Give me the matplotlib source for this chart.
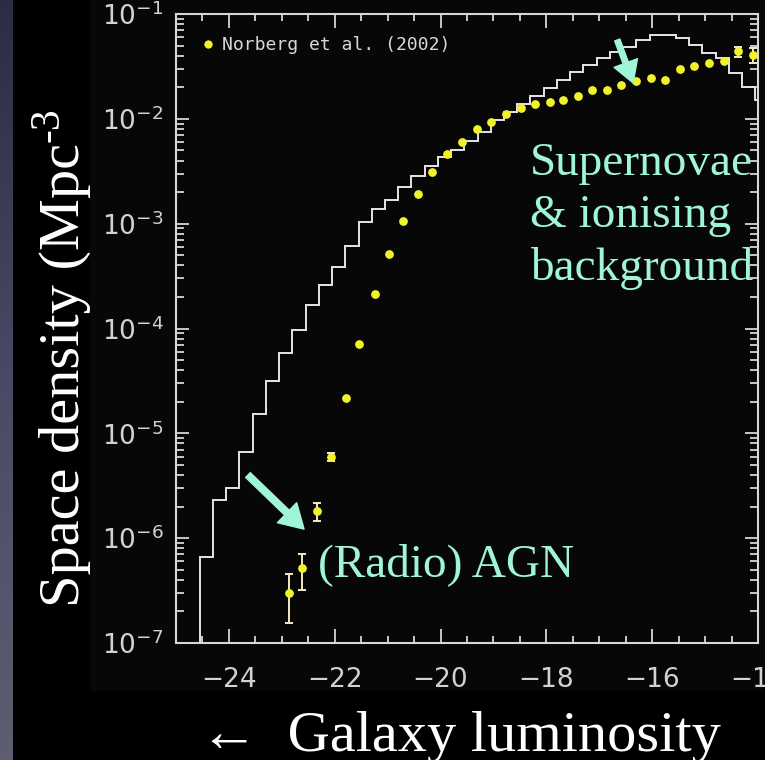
import numpy as np
import matplotlib
matplotlib.use("Agg")
import matplotlib.pyplot as plt
from matplotlib.lines import Line2D
from matplotlib.ticker import MultipleLocator, LogLocator, NullFormatter
from matplotlib.transforms import IdentityTransform

# Norberg et al. (2002) luminosity function points
norberg_mag = [-22.86, -22.62, -22.34, -22.07, -21.79, -21.54, -21.24, -20.98,
               -20.71, -20.43, -20.16, -19.88, -19.60, -19.32, -19.05, -18.76,
               -18.48, -18.21, -17.93, -17.68, -17.40, -17.14, -16.86, -16.59,
               -16.31, -16.03, -15.76, -15.47, -15.21, -14.92, -14.65, -14.37,
               -14.10]
norberg_phi = [3.0e-7, 5.15e-7, 1.82e-6, 5.98e-6, 2.16e-5, 7.1e-5, 2.12e-4, 5.1e-4,
               1.05e-3, 1.92e-3, 3.09e-3, 4.6e-3, 6.05e-3, 8.0e-3, 9.4e-3, 1.11e-2,
               1.26e-2, 1.38e-2, 1.46e-2, 1.51e-2, 1.65e-2, 1.88e-2, 1.88e-2, 2.10e-2,
               2.31e-2, 2.47e-2, 2.34e-2, 2.97e-2, 3.19e-2, 3.44e-2, 3.59e-2, 4.47e-2,
               4.06e-2]
norberg_err_lo = [1.45e-7, 1.95e-7, 3.5e-7, 4.8e-7] + [0.0] * 27 + [5.5e-3, 6.3e-3]
norberg_err_hi = [1.6e-7, 1.91e-7, 3.3e-7, 5.2e-7] + [0.0] * 27 + [4.1e-3, 6.5e-3]

# model luminosity function, 0.25 mag bins
model_edges = np.arange(-24.55, -13.74, 0.25)
model_phi = [6.56e-7, 2.31e-6, 2.99e-6, 6.68e-6, 1.53e-5, 3.18e-5, 5.88e-5, 9.68e-5,
             1.68e-4, 2.60e-4, 3.88e-4, 6.12e-4, 1.04e-3, 1.38e-3, 1.70e-3, 2.25e-3,
             2.85e-3, 3.55e-3, 4.33e-3, 5.05e-3, 6.15e-3, 7.54e-3, 9.75e-3, 1.16e-2,
             1.38e-2, 1.65e-2, 1.97e-2, 2.34e-2, 2.82e-2, 3.26e-2, 3.78e-2, 4.37e-2,
             4.88e-2, 5.65e-2, 6.31e-2, 6.31e-2, 5.86e-2, 5.06e-2, 4.22e-2, 3.78e-2,
             2.72e-2, 2.02e-2, 1.51e-2]

x_ticks = [-24, -22, -20, -18, -16, -14]

AQUA = "#a0f5d8"
YELLOW = "#f2f22a"
FRAME = "#d6d6d6"
SERIF = "Liberation Serif"

W, H = 765, 760
fig = plt.figure(figsize=(W / 100, H / 100), dpi=100, facecolor="black")

# slide background: bluish strip on the left, dark panel behind the plot
strip = fig.add_axes([0, 0, 13 / W, 1])
grad = np.linspace(0, 1, 256)[:, None]
strip.imshow(grad, aspect="auto", cmap=matplotlib.colors.LinearSegmentedColormap.from_list(
    "strip", ["#2c2c44", "#4a4a66", "#5e5e70"]), extent=[0, 1, 0, 1], origin="upper")
strip.set_axis_off()
fig.patches.append(plt.Rectangle((90 / W, 70 / H), 1 - 90 / W, 1 - 70 / H,
                                 transform=fig.transFigure, color="#070707", zorder=-1))

ax = fig.add_axes([176 / W, 117 / H, 582 / W, 629 / H])
ax.set_facecolor("#070707")
ax.set_yscale("log")
ax.set_xlim(-25, -14)
ax.set_ylim(1e-7, 1e-1)

ax.stairs(model_phi, model_edges, baseline=1e-9, color="#e6e6e6", lw=1.4, zorder=2)

mag = np.array(norberg_mag)
phi = np.array(norberg_phi)
elo = np.array(norberg_err_lo)
ehi = np.array(norberg_err_hi)
has_err = (elo > 0) | (ehi > 0)
ax.errorbar(mag[has_err], phi[has_err], yerr=[elo[has_err], ehi[has_err]], fmt="none",
            ecolor="#f3ecc4", elinewidth=1.4, capsize=2.6, capthick=1.4, zorder=3)
ax.plot(mag, phi, "o", color=YELLOW, ms=6.3, mec="none", zorder=4)

# axes styling
for side in ax.spines.values():
    side.set_color(FRAME)
    side.set_linewidth(1.5)
ax.xaxis.set_major_locator(plt.FixedLocator(x_ticks))
ax.xaxis.set_minor_locator(MultipleLocator(0.5))
ax.yaxis.set_major_locator(LogLocator(base=10, numticks=20))
ax.yaxis.set_minor_locator(LogLocator(base=10, subs=np.arange(2, 10), numticks=20))
ax.yaxis.set_minor_formatter(NullFormatter())
ax.tick_params(which="both", direction="in", top=True, right=True, color=FRAME,
               width=1.3, labelcolor="#d2d2d2", labelsize=19)
ax.tick_params(axis="x", which="major", length=10, pad=17)
ax.tick_params(axis="x", which="minor", length=5)
ax.tick_params(axis="y", which="major", length=9.5, pad=9)
ax.tick_params(axis="y", which="minor", length=5.5)

# legend
proxy = Line2D([], [], ls="none", marker="o", color=YELLOW, ms=6, mec="none")
ax.legend([proxy], ["Norberg et al. (2002)"], loc="upper left",
          bbox_to_anchor=(0.045, 0.965), frameon=False, borderpad=0, borderaxespad=0,
          handlelength=0.6, handletextpad=0.5, labelcolor="#d8d8d8",
          prop={"family": "DejaVu Sans Mono", "size": 13})

# annotations
ax.text(-18.31, 6.0e-3, "Supernovae\n& ionising\nbackground", color=AQUA,
        family=SERIF, fontsize=34, ha="left", va="top", linespacing=1.3, zorder=5)
ax.annotate("", xy=(-16.36, 2.2e-2), xytext=(-16.66, 5.65e-2),
            arrowprops=dict(arrowstyle="simple,head_length=0.85,head_width=1.0,tail_width=0.22",
                            color=AQUA, mutation_scale=18, shrinkA=0, shrinkB=0), zorder=5)
ax.text(-22.32, 4.35e-7, "(Radio) AGN", color=AQUA, family=SERIF, fontsize=34,
        ha="left", va="baseline", zorder=5)
ax.annotate("", xy=(-22.58, 1.22e-6), xytext=(-23.64, 4.0e-6),
            arrowprops=dict(arrowstyle="simple,head_length=0.85,head_width=1.0,tail_width=0.24",
                            color=AQUA, mutation_scale=20, shrinkA=0, shrinkB=0), zorder=5)

# axis titles in slide font
ylab = fig.text(79, H - 607, "Space density (Mpc", transform=IdentityTransform(),
                rotation=90, rotation_mode="anchor", ha="left", va="baseline",
                family=SERIF, fontsize=42, color="white")
fig.text(200, H - 751, "\u2190  Galaxy luminosity", transform=IdentityTransform(),
         ha="left", va="baseline", family=SERIF, fontsize=42, color="white")

fig.canvas.draw()
bb = ylab.get_window_extent()
fig.text(59, bb.y1 + 1, "-3", transform=IdentityTransform(), rotation=90,
         rotation_mode="anchor", ha="left", va="baseline", family=SERIF,
         fontsize=30, color="white")

fig.savefig("out.png", dpi=100, facecolor="black")
